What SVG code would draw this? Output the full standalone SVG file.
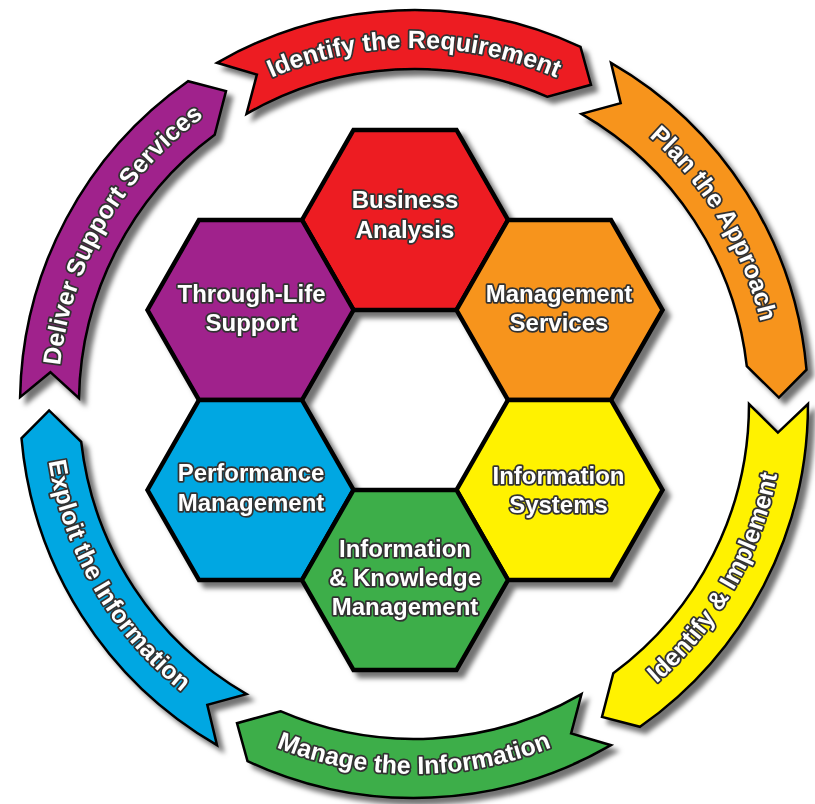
<svg xmlns="http://www.w3.org/2000/svg" xmlns:xlink="http://www.w3.org/1999/xlink" width="815" height="804" viewBox="0 0 815 804">
<style>
.hex{stroke:#000;stroke-width:4.5;stroke-linejoin:miter}
.arr{stroke:#000;stroke-width:2.5;stroke-linejoin:miter}
.red{fill:#ED1C24}.orange{fill:#F7941D}.yellow{fill:#FFF200}.green{fill:#3DAE49}.blue{fill:#00A7E2}.purple{fill:#A0228C}
.lbl{font-family:"Liberation Sans",Arial,sans-serif;font-weight:bold;fill:#fff;stroke:#333;stroke-width:3.5px;paint-order:stroke;stroke-linejoin:round;text-anchor:middle}
.hl{font-size:24px}
.al{font-size:25px}
</style>
<defs>
<filter id="shadow" x="-10%" y="-10%" width="130%" height="130%">
<feDropShadow dx="6" dy="6" stdDeviation="2.5" flood-color="#000" flood-opacity="0.55"/>
</filter>
<polygon id="hexshape" points="-103,0 -51.5,-90 51.5,-90 103,0 51.5,90 -51.5,90"/>
<path id="tp-red" d="M 105.7 226 A 356 356 0 0 1 722.3 226"/>
<path id="tp-orange" d="M 407.8 48.1 A 356 356 0 0 1 725.4 576.6"/>
<path id="tp-purple" d="M 105.7 582 A 356 356 0 0 1 414 48"/>
<path id="tp-green" d="M 93.6 589 A 370 370 0 0 0 734.4 589"/>
<path id="tp-yellow" d="M 414 774 A 370 370 0 0 0 734.4 219"/>
<path id="tp-blue" d="M 93.6 219 A 370 370 0 0 0 414 774"/>
</defs>
<rect width="815" height="804" fill="#fff"/>

<g id="cycle" filter="url(#shadow)">
<g id="arrow-identify-requirement">
<path class="arr red" d="M 217 62.8 A 394 394 0 0 1 580.5 46.9 L 591 84.8 L 547.6 96.8 A 335 335 0 0 0 246.5 113.9 L 256.9 74.6 Z"/>
<text class="lbl al"><textPath href="#tp-red" xlink:href="#tp-red" startOffset="50%">Identify the Requirement</textPath></text>
</g>
<g id="arrow-plan-approach">
<path class="arr orange" d="M 611 62.8 A 394 394 0 0 1 806.5 369.7 L 778.9 397.6 L 746.8 366.1 A 335 335 0 0 0 581.5 113.9 L 620.7 103.2 Z"/>
<text class="lbl al"><textPath href="#tp-orange" xlink:href="#tp-orange" startOffset="50%">Plan the Approach</textPath></text>
</g>
<g id="arrow-identify-implement">
<path class="arr yellow" d="M 808 404 A 394 394 0 0 1 640 726.8 L 602 716.9 L 613.3 673.3 A 335 335 0 0 0 749 404 L 777.9 432.6 Z"/>
<text class="lbl al"><textPath href="#tp-yellow" xlink:href="#tp-yellow" startOffset="50%">Identify &amp; Implement</textPath></text>
</g>
<g id="arrow-manage-information">
<path class="arr green" d="M 611 745.2 A 394 394 0 0 1 247.5 761.1 L 237 723.2 L 280.4 711.2 A 335 335 0 0 0 581.5 694.1 L 571.1 733.4 Z"/>
<text class="lbl al"><textPath href="#tp-green" xlink:href="#tp-green" startOffset="50%">Manage the Information</textPath></text>
</g>
<g id="arrow-exploit-information">
<path class="arr blue" d="M 217 745.2 A 394 394 0 0 1 21.5 438.3 L 49.1 410.4 L 81.2 441.9 A 335 335 0 0 0 246.5 694.1 L 207.3 704.8 Z"/>
<text class="lbl al"><textPath href="#tp-blue" xlink:href="#tp-blue" startOffset="50%">Exploit the Information</textPath></text>
</g>
<g id="arrow-deliver-support">
<path class="arr purple" d="M 20.1 397.1 A 394 394 0 0 1 188 81.2 L 226 91.1 L 214.7 134.7 A 335 335 0 0 0 79 398.2 L 50.4 372.2 Z"/>
<text class="lbl al"><textPath href="#tp-purple" xlink:href="#tp-purple" startOffset="50%">Deliver Support Services</textPath></text>
</g>
</g>

<g id="hexagons" filter="url(#shadow)">
<g id="hex-business-analysis">
<use href="#hexshape" xlink:href="#hexshape" class="hex red" x="405" y="220"/>
<text class="lbl hl" x="405" y="208">Business</text>
<text class="lbl hl" x="405" y="238">Analysis</text>
</g>
<g id="hex-through-life-support">
<use href="#hexshape" xlink:href="#hexshape" class="hex purple" x="250.5" y="310"/>
<text class="lbl hl" x="251.5" y="302">Through-Life</text>
<text class="lbl hl" x="251.5" y="331">Support</text>
</g>
<g id="hex-management-services">
<use href="#hexshape" xlink:href="#hexshape" class="hex orange" x="559.5" y="310"/>
<text class="lbl hl" x="559" y="302">Management</text>
<text class="lbl hl" x="559" y="331">Services</text>
</g>
<g id="hex-performance-management">
<use href="#hexshape" xlink:href="#hexshape" class="hex blue" x="250.5" y="490"/>
<text class="lbl hl" x="251" y="481">Performance</text>
<text class="lbl hl" x="251" y="511">Management</text>
</g>
<g id="hex-information-systems">
<use href="#hexshape" xlink:href="#hexshape" class="hex yellow" x="559.5" y="490"/>
<text class="lbl hl" x="558.5" y="483.5">Information</text>
<text class="lbl hl" x="558.5" y="512.5">Systems</text>
</g>
<g id="hex-information-knowledge-management">
<use href="#hexshape" xlink:href="#hexshape" class="hex green" x="405" y="580"/>
<text class="lbl hl" x="405" y="557">Information</text>
<text class="lbl hl" x="405" y="586">&amp; Knowledge</text>
<text class="lbl hl" x="405" y="614.5">Management</text>
</g>
</g>
<g id="connectors"/>
</svg>
